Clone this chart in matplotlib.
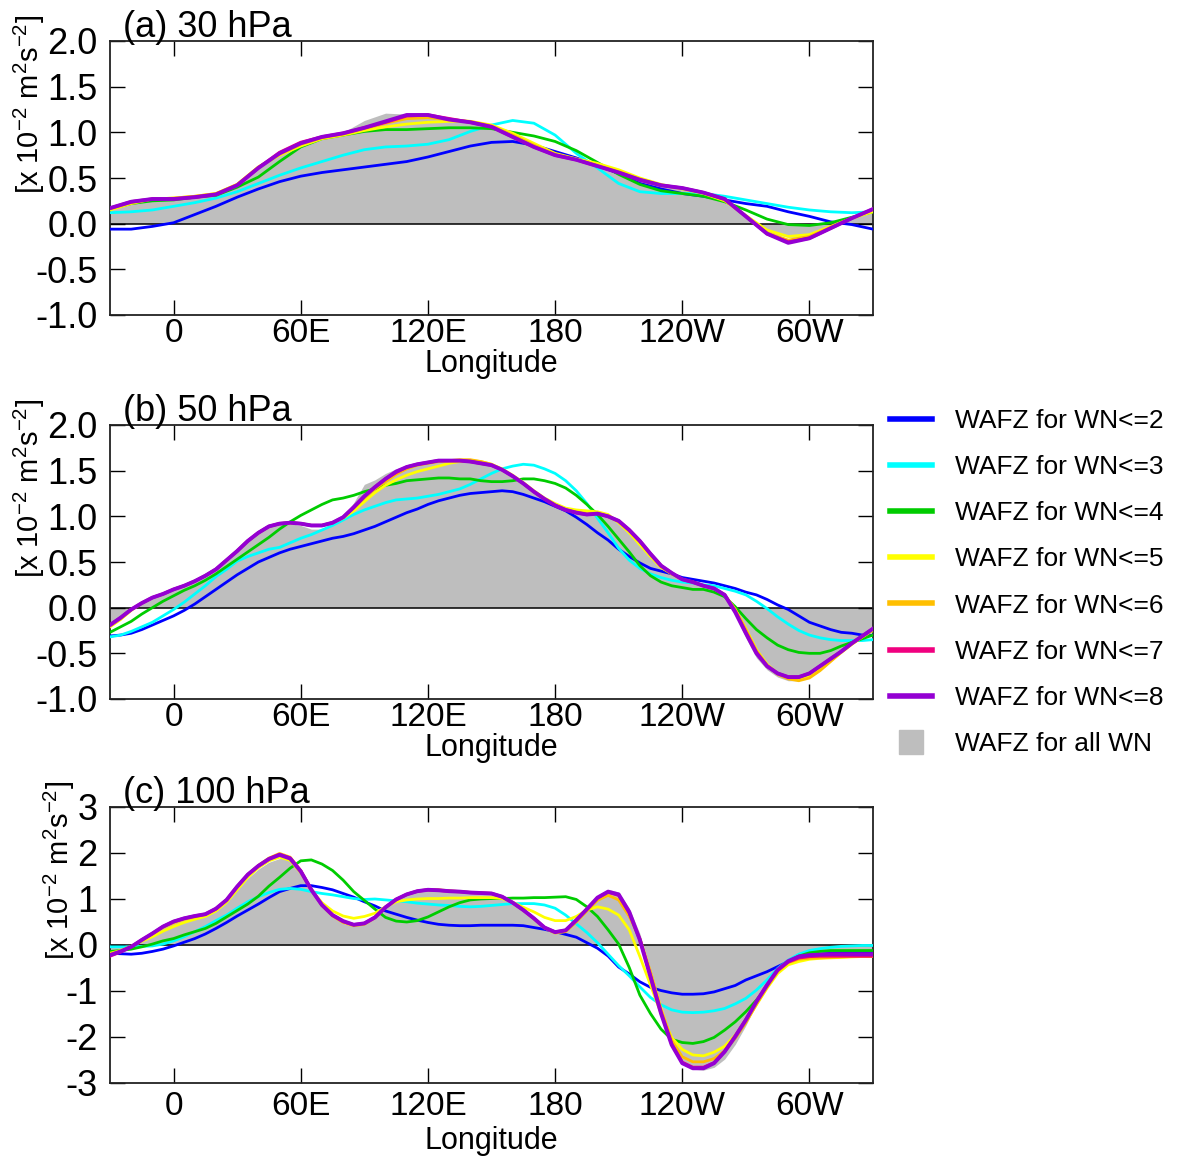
import matplotlib
matplotlib.use("Agg")
import matplotlib.pyplot as plt
from matplotlib.lines import Line2D
import numpy as np

plt.rcParams['font.family'] = ['Liberation Sans', 'DejaVu Sans']
plt.rcParams['mathtext.fontset'] = 'custom'
plt.rcParams['mathtext.rm'] = 'Liberation Sans'
plt.rcParams['mathtext.it'] = 'Liberation Sans:italic'
plt.rcParams['axes.unicode_minus'] = False

# longitude grids: 10 deg for (a); 5 deg for (b) and (c)
lon10 = np.arange(-30, 331, 10)
lon5 = np.arange(-30, 331, 5)

# ---- (a) 30 hPa ----
wn2_a = [-0.06, -0.06, -0.03, 0.01, 0.10, 0.19, 0.29, 0.38, 0.46, 0.52,
         0.56, 0.59, 0.62, 0.65, 0.68, 0.73, 0.79, 0.85, 0.89, 0.90,
         0.86, 0.79, 0.72, 0.64, 0.55, 0.44, 0.38, 0.33, 0.30, 0.26,
         0.22, 0.19, 0.13, 0.08, 0.02, -0.01, -0.06]
wn3_a = [0.12, 0.13, 0.15, 0.19, 0.23, 0.28, 0.35, 0.44, 0.53, 0.61,
         0.68, 0.75, 0.81, 0.84, 0.85, 0.87, 0.92, 1.01, 1.08, 1.13,
         1.10, 0.97, 0.77, 0.61, 0.44, 0.35, 0.33, 0.33, 0.33, 0.30,
         0.26, 0.22, 0.18, 0.15, 0.13, 0.12, 0.13]
wn4_a = [0.16, 0.22, 0.25, 0.26, 0.29, 0.31, 0.40, 0.51, 0.68, 0.84,
         0.93, 0.97, 1.01, 1.03, 1.03, 1.04, 1.05, 1.05, 1.04, 1.00,
         0.96, 0.90, 0.80, 0.67, 0.54, 0.43, 0.36, 0.33, 0.30, 0.24,
         0.15, 0.05, -0.01, -0.02, 0.01, 0.07, 0.13]
wn5_a = [0.15, 0.22, 0.27, 0.28, 0.30, 0.33, 0.43, 0.62, 0.75, 0.85,
         0.93, 0.97, 1.02, 1.06, 1.09, 1.11, 1.12, 1.12, 1.08, 0.99,
         0.88, 0.77, 0.71, 0.66, 0.59, 0.50, 0.43, 0.38, 0.33, 0.25,
         0.09, -0.07, -0.14, -0.12, -0.03, 0.06, 0.13]
wn6_a = [0.16, 0.23, 0.27, 0.28, 0.30, 0.33, 0.43, 0.62, 0.76, 0.87,
         0.94, 0.98, 1.04, 1.10, 1.15, 1.16, 1.14, 1.12, 1.07, 0.97,
         0.86, 0.76, 0.70, 0.64, 0.57, 0.49, 0.42, 0.39, 0.34, 0.26,
         0.08, -0.10, -0.18, -0.14, -0.04, 0.06, 0.15]
wn7_a = [0.17, 0.24, 0.27, 0.27, 0.29, 0.32, 0.42, 0.61, 0.78, 0.89,
         0.95, 0.99, 1.05, 1.11, 1.18, 1.19, 1.15, 1.11, 1.06, 0.95,
         0.84, 0.75, 0.70, 0.63, 0.56, 0.48, 0.42, 0.39, 0.34, 0.27,
         0.08, -0.11, -0.20, -0.16, -0.05, 0.06, 0.16]
wn8_a = [0.17, 0.24, 0.27, 0.27, 0.29, 0.32, 0.42, 0.61, 0.77, 0.88,
         0.95, 0.99, 1.05, 1.12, 1.19, 1.19, 1.14, 1.11, 1.06, 0.95,
         0.84, 0.75, 0.70, 0.63, 0.56, 0.48, 0.42, 0.39, 0.34, 0.27,
         0.08, -0.11, -0.21, -0.16, -0.05, 0.06, 0.16]
all_a = [0.16, 0.22, 0.26, 0.27, 0.29, 0.33, 0.43, 0.60, 0.76, 0.87,
         0.94, 1.00, 1.13, 1.21, 1.20, 1.17, 1.14, 1.11, 1.05, 0.95,
         0.84, 0.75, 0.70, 0.64, 0.56, 0.48, 0.41, 0.38, 0.35, 0.27,
         0.06, -0.09, -0.15, -0.15, -0.05, 0.05, 0.14]

# ---- (b) 50 hPa (5 deg) ----
wn2_b = [-0.31, -0.30, -0.28, -0.24, -0.19, -0.14, -0.09, -0.03, 0.04, 0.12,
         0.20, 0.28, 0.36, 0.43, 0.50, 0.55, 0.60, 0.64, 0.67, 0.70,
         0.73, 0.76, 0.78, 0.81, 0.85, 0.89, 0.94, 0.99, 1.04, 1.08,
         1.13, 1.17, 1.20, 1.23, 1.25, 1.26, 1.27, 1.28, 1.27, 1.24,
         1.20, 1.16, 1.11, 1.06, 0.99, 0.91, 0.82, 0.74, 0.64, 0.56,
         0.49, 0.43, 0.40, 0.37, 0.33, 0.31, 0.29, 0.27, 0.24, 0.21,
         0.17, 0.14, 0.09, 0.03, -0.02, -0.09, -0.16, -0.20, -0.24, -0.27,
         -0.28, -0.30, -0.30]
wn3_b = [-0.32, -0.30, -0.26, -0.21, -0.16, -0.09, -0.02, 0.06, 0.15, 0.24,
         0.34, 0.42, 0.51, 0.56, 0.60, 0.64, 0.66, 0.71, 0.76, 0.80,
         0.85, 0.90, 0.96, 1.02, 1.07, 1.11, 1.15, 1.18, 1.19, 1.20,
         1.22, 1.24, 1.27, 1.30, 1.35, 1.41, 1.47, 1.52, 1.55, 1.57,
         1.56, 1.52, 1.47, 1.39, 1.28, 1.14, 0.98, 0.82, 0.65, 0.52,
         0.43, 0.37, 0.33, 0.30, 0.28, 0.27, 0.25, 0.24, 0.21, 0.18,
         0.14, 0.07, -0.01, -0.10, -0.18, -0.25, -0.30, -0.33, -0.35, -0.36,
         -0.36, -0.36, -0.35]
wn4_b = [-0.27, -0.21, -0.15, -0.07, 0.00, 0.07, 0.13, 0.19, 0.24, 0.30,
         0.37, 0.45, 0.53, 0.61, 0.69, 0.77, 0.86, 0.94, 1.01, 1.07,
         1.13, 1.18, 1.20, 1.23, 1.27, 1.30, 1.34, 1.36, 1.39, 1.40,
         1.41, 1.42, 1.42, 1.41, 1.41, 1.39, 1.38, 1.38, 1.39, 1.41,
         1.41, 1.39, 1.36, 1.31, 1.23, 1.13, 1.02, 0.89, 0.75, 0.61,
         0.46, 0.35, 0.28, 0.24, 0.22, 0.20, 0.20, 0.17, 0.12, 0.01,
         -0.12, -0.24, -0.33, -0.41, -0.46, -0.49, -0.50, -0.50, -0.47, -0.42,
         -0.38, -0.34, -0.30]
wn5_b = [-0.21, -0.13, -0.03, 0.05, 0.11, 0.15, 0.20, 0.24, 0.29, 0.35,
         0.42, 0.52, 0.62, 0.73, 0.82, 0.89, 0.92, 0.93, 0.92, 0.90,
         0.90, 0.93, 0.98, 1.06, 1.16, 1.26, 1.34, 1.40, 1.45, 1.49,
         1.52, 1.55, 1.58, 1.60, 1.61, 1.60, 1.57, 1.52, 1.45, 1.37,
         1.28, 1.20, 1.14, 1.09, 1.07, 1.06, 1.05, 1.02, 0.93, 0.82,
         0.69, 0.56, 0.44, 0.37, 0.31, 0.28, 0.24, 0.21, 0.14, -0.02,
         -0.23, -0.46, -0.62, -0.72, -0.77, -0.78, -0.75, -0.67, -0.58, -0.49,
         -0.40, -0.32, -0.25]
wn6_b = [-0.20, -0.12, -0.02, 0.05, 0.11, 0.15, 0.20, 0.24, 0.29, 0.35,
         0.42, 0.52, 0.62, 0.73, 0.82, 0.89, 0.92, 0.93, 0.92, 0.90,
         0.90, 0.93, 0.99, 1.09, 1.20, 1.30, 1.38, 1.46, 1.52, 1.56,
         1.58, 1.60, 1.61, 1.62, 1.62, 1.60, 1.57, 1.51, 1.44, 1.36,
         1.27, 1.19, 1.12, 1.07, 1.05, 1.03, 1.03, 1.00, 0.94, 0.84,
         0.72, 0.58, 0.45, 0.37, 0.31, 0.28, 0.24, 0.21, 0.14, -0.02,
         -0.24, -0.47, -0.63, -0.73, -0.78, -0.80, -0.77, -0.69, -0.59, -0.49,
         -0.40, -0.32, -0.24]
wn7_b = [-0.19, -0.11, -0.02, 0.05, 0.11, 0.15, 0.20, 0.24, 0.29, 0.35,
         0.42, 0.52, 0.62, 0.73, 0.82, 0.89, 0.92, 0.93, 0.92, 0.90,
         0.90, 0.93, 0.99, 1.10, 1.22, 1.32, 1.41, 1.48, 1.54, 1.57,
         1.59, 1.61, 1.61, 1.61, 1.60, 1.58, 1.56, 1.51, 1.44, 1.36,
         1.27, 1.19, 1.12, 1.07, 1.04, 1.02, 1.03, 1.00, 0.95, 0.85,
         0.73, 0.59, 0.46, 0.38, 0.31, 0.28, 0.24, 0.21, 0.14, -0.04,
         -0.27, -0.49, -0.64, -0.72, -0.76, -0.76, -0.72, -0.64, -0.56, -0.48,
         -0.39, -0.31, -0.23]
wn8_b = [-0.19, -0.11, -0.02, 0.05, 0.11, 0.15, 0.20, 0.24, 0.29, 0.35,
         0.42, 0.52, 0.62, 0.73, 0.82, 0.89, 0.92, 0.93, 0.92, 0.90,
         0.90, 0.93, 0.99, 1.10, 1.22, 1.32, 1.41, 1.49, 1.54, 1.57,
         1.59, 1.61, 1.61, 1.61, 1.60, 1.58, 1.56, 1.51, 1.44, 1.36,
         1.27, 1.19, 1.12, 1.07, 1.04, 1.02, 1.03, 1.00, 0.95, 0.85,
         0.73, 0.59, 0.46, 0.38, 0.31, 0.28, 0.24, 0.21, 0.14, -0.05,
         -0.28, -0.50, -0.64, -0.72, -0.76, -0.76, -0.72, -0.64, -0.56, -0.48,
         -0.39, -0.31, -0.23]
all_b = [-0.21, -0.11, -0.02, 0.05, 0.11, 0.15, 0.20, 0.24, 0.29, 0.35,
         0.42, 0.52, 0.62, 0.73, 0.82, 0.89, 0.92, 0.92, 0.90, 0.86,
         0.86, 0.90, 1.00, 1.15, 1.35, 1.40, 1.47, 1.52, 1.56, 1.58,
         1.60, 1.61, 1.62, 1.62, 1.62, 1.61, 1.57, 1.51, 1.44, 1.36,
         1.27, 1.19, 1.12, 1.07, 1.04, 1.03, 1.03, 1.00, 0.95, 0.85,
         0.73, 0.58, 0.45, 0.37, 0.31, 0.28, 0.24, 0.21, 0.13, -0.08,
         -0.33, -0.55, -0.68, -0.76, -0.80, -0.80, -0.76, -0.67, -0.58, -0.49,
         -0.40, -0.32, -0.24]

# ---- (c) 100 hPa (5 deg) ----
wn2_c = [-0.18, -0.19, -0.20, -0.18, -0.14, -0.09, -0.02, 0.06, 0.14, 0.24,
         0.36, 0.49, 0.63, 0.76, 0.89, 1.03, 1.16, 1.23, 1.29, 1.29,
         1.25, 1.20, 1.12, 1.04, 0.94, 0.85, 0.74, 0.67, 0.60, 0.54,
         0.49, 0.45, 0.43, 0.42, 0.42, 0.43, 0.43, 0.43, 0.43, 0.42,
         0.38, 0.34, 0.29, 0.23, 0.17, 0.05, -0.07, -0.24, -0.48, -0.63,
         -0.80, -0.92, -0.99, -1.04, -1.07, -1.07, -1.06, -1.02, -0.95, -0.88,
         -0.76, -0.67, -0.58, -0.47, -0.36, -0.29, -0.23, -0.20, -0.18, -0.17,
         -0.17, -0.17, -0.17]
wn3_c = [-0.04, -0.04, -0.04, -0.03, -0.02, 0.02, 0.09, 0.18, 0.29, 0.40,
         0.53, 0.65, 0.80, 0.94, 1.05, 1.14, 1.21, 1.23, 1.21, 1.16,
         1.12, 1.09, 1.05, 1.01, 0.99, 1.00, 0.98, 0.96, 0.94, 0.91,
         0.89, 0.87, 0.86, 0.84, 0.83, 0.84, 0.86, 0.88, 0.90, 0.90,
         0.90, 0.87, 0.80, 0.65, 0.46, 0.27, 0.05, -0.20, -0.45, -0.67,
         -0.91, -1.14, -1.30, -1.41, -1.46, -1.47, -1.46, -1.43, -1.38, -1.28,
         -1.16, -0.98, -0.76, -0.51, -0.33, -0.20, -0.12, -0.08, -0.05, -0.03,
         -0.02, -0.01, -0.01]
wn4_c = [-0.14, -0.12, -0.09, -0.04, 0.02, 0.09, 0.14, 0.22, 0.29, 0.36,
         0.47, 0.61, 0.75, 0.89, 1.06, 1.28, 1.47, 1.67, 1.83, 1.85,
         1.76, 1.62, 1.41, 1.16, 0.97, 0.78, 0.60, 0.52, 0.50, 0.53,
         0.61, 0.72, 0.83, 0.92, 0.98, 1.00, 1.01, 1.01, 1.02, 1.02,
         1.03, 1.03, 1.04, 1.05, 0.99, 0.83, 0.62, 0.33, 0.02, -0.49,
         -1.09, -1.49, -1.83, -2.05, -2.12, -2.14, -2.10, -2.01, -1.85, -1.67,
         -1.45, -1.20, -0.91, -0.58, -0.36, -0.24, -0.17, -0.14, -0.12, -0.12,
         -0.12, -0.12, -0.12]
wn5_c = [-0.18, -0.12, -0.03, 0.08, 0.18, 0.30, 0.40, 0.49, 0.56, 0.62,
         0.74, 0.93, 1.20, 1.47, 1.68, 1.83, 1.91, 1.84, 1.57, 1.20,
         0.92, 0.74, 0.63, 0.58, 0.62, 0.69, 0.83, 0.94, 0.98, 1.00,
         1.01, 1.01, 1.02, 1.02, 1.03, 1.03, 1.03, 1.01, 0.93, 0.82,
         0.72, 0.60, 0.53, 0.53, 0.62, 0.76, 0.83, 0.78, 0.65, 0.33,
         -0.25, -0.87, -1.49, -2.01, -2.27, -2.39, -2.41, -2.33, -2.20, -1.96,
         -1.67, -1.30, -0.94, -0.62, -0.43, -0.36, -0.31, -0.29, -0.28, -0.27,
         -0.26, -0.25, -0.25]
wn6_c = [-0.20, -0.13, -0.03, 0.11, 0.24, 0.38, 0.48, 0.56, 0.61, 0.66,
         0.78, 0.97, 1.26, 1.53, 1.73, 1.89, 1.99, 1.91, 1.62, 1.20,
         0.86, 0.63, 0.49, 0.42, 0.45, 0.59, 0.82, 0.99, 1.10, 1.17,
         1.20, 1.20, 1.18, 1.16, 1.14, 1.13, 1.12, 1.05, 0.92, 0.76,
         0.57, 0.37, 0.26, 0.29, 0.50, 0.74, 0.97, 1.08, 0.98, 0.62,
         0.14, -0.58, -1.38, -2.07, -2.43, -2.54, -2.54, -2.47, -2.30, -2.03,
         -1.69, -1.29, -0.92, -0.58, -0.38, -0.31, -0.29, -0.28, -0.27, -0.26,
         -0.25, -0.25, -0.25]
wn7_c = [-0.24, -0.15, -0.04, 0.11, 0.25, 0.40, 0.51, 0.58, 0.63, 0.67,
         0.79, 0.98, 1.27, 1.53, 1.72, 1.87, 1.97, 1.89, 1.61, 1.20,
         0.87, 0.65, 0.51, 0.44, 0.47, 0.60, 0.82, 0.99, 1.10, 1.17,
         1.20, 1.19, 1.17, 1.16, 1.14, 1.13, 1.12, 1.05, 0.92, 0.76,
         0.58, 0.38, 0.28, 0.32, 0.54, 0.78, 1.02, 1.15, 1.08, 0.70,
         0.12, -0.67, -1.47, -2.15, -2.55, -2.66, -2.66, -2.56, -2.31, -1.98,
         -1.62, -1.23, -0.87, -0.55, -0.37, -0.28, -0.25, -0.24, -0.24, -0.24,
         -0.24, -0.24, -0.24]
wn8_c = [-0.22, -0.14, -0.04, 0.11, 0.25, 0.40, 0.51, 0.58, 0.63, 0.67,
         0.79, 0.98, 1.27, 1.53, 1.72, 1.87, 1.96, 1.88, 1.60, 1.20,
         0.87, 0.65, 0.52, 0.44, 0.47, 0.60, 0.82, 0.99, 1.10, 1.17,
         1.20, 1.19, 1.17, 1.16, 1.14, 1.13, 1.12, 1.05, 0.92, 0.76,
         0.58, 0.38, 0.28, 0.32, 0.54, 0.78, 1.03, 1.16, 1.10, 0.72,
         0.11, -0.69, -1.49, -2.17, -2.57, -2.68, -2.68, -2.57, -2.32, -1.99,
         -1.63, -1.23, -0.87, -0.54, -0.35, -0.25, -0.22, -0.21, -0.20, -0.20,
         -0.20, -0.20, -0.20]
all_c = [-0.15, -0.12, -0.04, 0.10, 0.23, 0.37, 0.47, 0.55, 0.61, 0.66,
         0.78, 0.96, 1.20, 1.45, 1.65, 1.80, 1.88, 1.88, 1.65, 1.27,
         0.90, 0.65, 0.47, 0.41, 0.48, 0.60, 0.82, 0.99, 1.10, 1.17,
         1.20, 1.20, 1.18, 1.17, 1.15, 1.14, 1.12, 1.05, 0.92, 0.76,
         0.57, 0.37, 0.26, 0.28, 0.52, 0.80, 1.08, 1.21, 1.15, 0.80,
         0.25, -0.55, -1.30, -2.05, -2.55, -2.70, -2.72, -2.66, -2.48, -2.16,
         -1.75, -1.28, -0.88, -0.55, -0.34, -0.24, -0.19, -0.17, -0.16, -0.15,
         -0.14, -0.14, -0.14]

labels = ["WAFZ for WN<=2", "WAFZ for WN<=3", "WAFZ for WN<=4", "WAFZ for WN<=5",
          "WAFZ for WN<=6", "WAFZ for WN<=7", "WAFZ for WN<=8"]
colors = ["#0000FF", "#00FFFF", "#00CC00", "#FFFF00",
          "#FFBF00", "#F0007F", "#9400D3"]
widths = [2.0, 2.0, 2.0, 2.0, 2.0, 2.3, 2.8]
gray = "#BEBEBE"

xticks = [0, 60, 120, 180, 240, 300]
xticklabels = ["0", "60E", "120E", "180", "120W", "60W"]

ylabel = "[x 10$^{-2}$ m$^{2}$s$^{-2}$]"


def draw_panel(ax, x, lines, allwn, title, yticks, yticklabels, ylab_x,
               xpad=2, labelpad=0):
    ax.fill_between(x, 0, allwn, color=gray, lw=0, zorder=1)
    ax.axhline(0, color="k", lw=1.1, zorder=2)
    for vals, c, w in zip(lines, colors, widths):
        ax.plot(x, vals, color=c, lw=w, zorder=3, solid_joinstyle="round")

    ax.set_xlim(-30, 330)
    ax.set_ylim(yticks[0], yticks[-1])
    ax.set_xticks(xticks)
    ax.set_xticklabels(xticklabels)
    ax.set_yticks(yticks)
    ax.set_yticklabels(yticklabels)
    ax.tick_params(axis="both", direction="in", length=11, width=1.0,
                   top=True, right=True)
    ax.tick_params(axis="x", pad=xpad, labelsize=24)
    ax.tick_params(axis="y", pad=9, labelsize=26)
    for s in ax.spines.values():
        s.set_linewidth(1.3)
        s.set_color("#222222")
    ax.set_xlabel("Longitude", fontsize=22, labelpad=labelpad)
    ax.text(0.017, 1.015, title, transform=ax.transAxes, fontsize=26,
            ha="left", va="baseline")
    ax.text(ylab_x, 0.77, ylabel, transform=ax.transAxes, fontsize=21,
            rotation=90, ha="center", va="center")


fig = plt.figure(figsize=(11.79, 11.59), dpi=100)
left, width = 110 / 1179, 763 / 1179
ax_a = fig.add_axes([left, 1 - 315 / 1159, width, 274 / 1159])
ax_b = fig.add_axes([left, 1 - 699 / 1159, width, 274 / 1159])
ax_c = fig.add_axes([left, 1 - 1083 / 1159, width, 276 / 1159])

half_ticks = [-1.0, -0.5, 0.0, 0.5, 1.0, 1.5, 2.0]
half_labels = ["%.1f" % v for v in half_ticks]
int_ticks = [-3, -2, -1, 0, 1, 2, 3]
int_labels = [str(v) for v in int_ticks]

draw_panel(ax_a, lon10, [wn2_a, wn3_a, wn4_a, wn5_a, wn6_a, wn7_a, wn8_a], all_a,
           "(a) 30 hPa", half_ticks, half_labels, -0.105)
draw_panel(ax_b, lon5, [wn2_b, wn3_b, wn4_b, wn5_b, wn6_b, wn7_b, wn8_b], all_b,
           "(b) 50 hPa", half_ticks, half_labels, -0.105)
draw_panel(ax_c, lon5, [wn2_c, wn3_c, wn4_c, wn5_c, wn6_c, wn7_c, wn8_c], all_c,
           "(c) 100 hPa", int_ticks, int_labels, -0.066, xpad=6, labelpad=3)

handles = [Line2D([], [], color=c, lw=4) for c in colors]
handles.append(Line2D([], [], color=gray, marker="s", markersize=17, linestyle="none"))
fig.legend(handles, labels + ["WAFZ for all WN"], loc="upper left",
           bbox_to_anchor=(890 / 1179, 1 - 409 / 1159), frameon=False,
           fontsize=19, handlelength=1.6, handletextpad=0.85,
           labelspacing=0.84, borderpad=0, borderaxespad=0)

fig.savefig("out.png", dpi=100)
